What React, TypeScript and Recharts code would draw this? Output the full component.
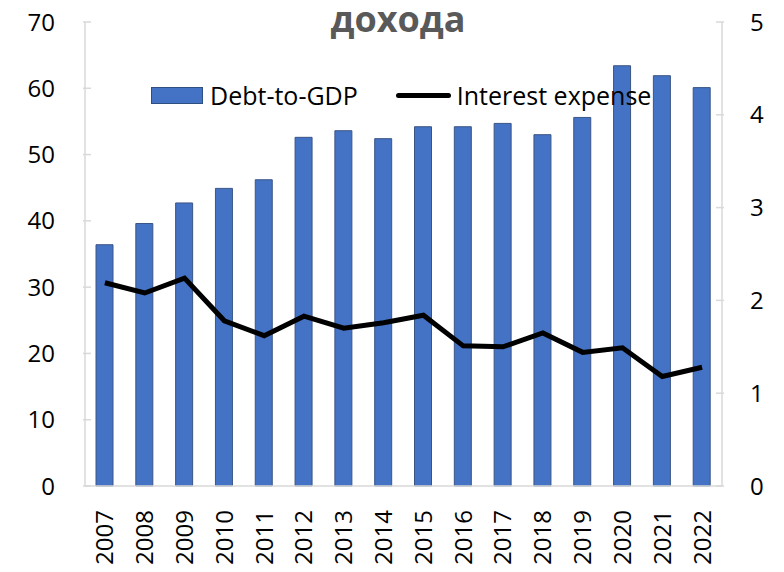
import React from 'react';
import { ComposedChart, Bar, Line, XAxis, YAxis } from 'recharts';

const years = ['2007', '2008', '2009', '2010', '2011', '2012', '2013', '2014', '2015', '2016', '2017', '2018', '2019', '2020', '2021', '2022'];
const debtToGdp = [36.4, 39.6, 42.7, 44.9, 46.2, 52.6, 53.6, 52.4, 54.2, 54.2, 54.7, 53.0, 55.6, 63.4, 61.9, 60.1];
const interestExpense = [2.19, 2.08, 2.24, 1.78, 1.62, 1.83, 1.70, 1.76, 1.84, 1.51, 1.50, 1.65, 1.44, 1.49, 1.18, 1.28];
const leftTicks = [0, 10, 20, 30, 40, 50, 60, 70];
const rightTicks = [0, 1, 2, 3, 4, 5];

const data = years.map((year, i) => ({
  year,
  debt: debtToGdp[i],
  interest: interestExpense[i],
}));

const FONT = "'Open Sans', sans-serif";
const BAR_COLOR = '#4472C4';
const AXIS_COLOR = '#d9d9d9';

const LeftTick = ({ x, y, payload }: any) => (
  <g>
    <line x1={x} x2={x + 8} y1={y} y2={y} stroke={AXIS_COLOR} strokeWidth={1.5} />
    <text x={x - 28} y={y} dy='0.36em' textAnchor='end' fontSize={24} fontFamily={FONT} fill='#000'>
      {payload.value}
    </text>
  </g>
);

const RightTick = ({ x, y, payload }: any) => (
  <g>
    <line x1={x - 8} x2={x} y1={y} y2={y} stroke={AXIS_COLOR} strokeWidth={1.5} />
    <text x={x + 26} y={y} dy='0.36em' textAnchor='start' fontSize={24} fontFamily={FONT} fill='#000'>
      {payload.value}
    </text>
  </g>
);

const YearTick = ({ x, y, payload }: any) => (
  <text
    transform={`translate(${x},${y + 22}) rotate(-90)`}
    dy='0.35em'
    textAnchor='end'
    fontSize={24}
    fontFamily={FONT}
    fill='#000'
  >
    {payload.value}
  </text>
);

// legend drawn as an overlay so it doesn't eat plot space
const ChartLegend = () => (
  <div
    style={{
      position: 'absolute',
      top: 78,
      left: 151,
      display: 'flex',
      alignItems: 'center',
      fontFamily: FONT,
      fontSize: 25,
      color: '#000',
      height: 34,
      whiteSpace: 'nowrap',
    }}
  >
    <span style={{ display: 'inline-block', width: 50, height: 15, background: BAR_COLOR, border: '1px solid #2F4F80' }} />
    <span style={{ marginLeft: 7 }}>Debt-to-GDP</span>
    <span style={{ display: 'inline-block', width: 55, height: 5, background: '#000', borderRadius: 3, marginLeft: 38 }} />
    <span style={{ marginLeft: 6 }}>Interest expense</span>
  </div>
);

const App = () => {
  return (
    <div style={{ position: 'absolute', left: 0, top: 0, width: 784, height: 572, background: '#fff' }}>
      <ComposedChart
        width={784}
        height={572}
        data={data}
        margin={{ top: 22, right: 0, bottom: 0, left: 0 }}
      >
        <XAxis
          dataKey='year'
          interval={0}
          height={86}
          tickLine={false}
          tickSize={0}
          tick={<YearTick />}
          stroke={AXIS_COLOR}
          strokeWidth={1.5}
        />
        <YAxis
          yAxisId='left'
          orientation='left'
          width={85}
          domain={[0, 70]}
          ticks={leftTicks}
          interval={0}
          tickLine={false}
          tickSize={0}
          tick={<LeftTick />}
          stroke={AXIS_COLOR}
          strokeWidth={1.5}
        />
        <YAxis
          yAxisId='right'
          orientation='right'
          width={62}
          domain={[0, 5]}
          ticks={rightTicks}
          interval={0}
          tickLine={false}
          tickSize={0}
          tick={<RightTick />}
          stroke={AXIS_COLOR}
          strokeWidth={1.5}
        />
        <Bar
          yAxisId='left'
          dataKey='debt'
          name='Debt-to-GDP'
          fill={BAR_COLOR}
          stroke='#3A5584'
          strokeWidth={1}
          barSize={17}
          isAnimationActive={false}
        />
        <Line
          yAxisId='right'
          type='linear'
          dataKey='interest'
          name='Interest expense'
          stroke='#000'
          strokeWidth={5}
          dot={false}
          activeDot={false}
          isAnimationActive={false}
        />
      </ComposedChart>
      <ChartLegend />
      <div
        style={{
          position: 'absolute',
          left: 0,
          top: 1,
          width: 796,
          textAlign: 'center',
          fontFamily: FONT,
          fontWeight: 700,
          fontSize: 36,
          lineHeight: '36px',
          color: '#595959',
          pointerEvents: 'none',
        }}
      >
        дохода
      </div>
    </div>
  );
};

export default App;
